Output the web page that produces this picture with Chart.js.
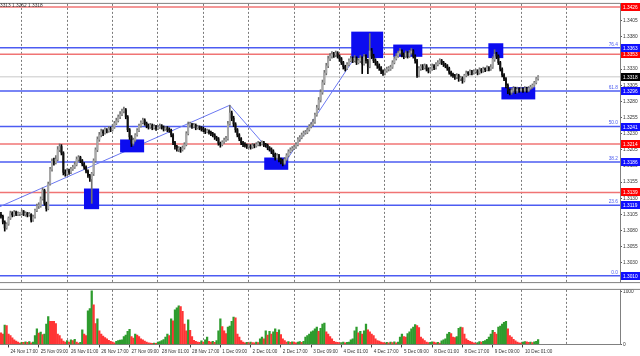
<!DOCTYPE html>
<html>
<head>
<meta charset="utf-8">
<script src="https://cdn.jsdelivr.net/npm/chart.js@4.4.1/dist/chart.umd.min.js"></script>
<style>
  html, body { margin: 0; padding: 0; background: #fff; overflow: hidden; }
  #wrap { position: relative; width: 640px; height: 356px; }
  #price { position: absolute; left: 0; top: 0; }
  #vol { position: absolute; left: 0; top: 286px; }
</style>
</head>
<body>
<div id="wrap">
  <canvas id="price" width="640" height="286"></canvas>
  <canvas id="vol" width="640" height="70"></canvas>
</div>
<script>
// prices are kept in pips above 1.3000, one entry per H1 bar (24 Nov 13:00 .. 10 Dec 09:00)
const BASE = 1.3;
const firstOpen = 105;
const closes = [
  102,93,84,90,99, 107,104,108,105,106, 106,109,105,107,104, 105,96,101,111,118,
  118,129,142,122,114, 152,175,187,185,190, 205,210,200,170,168, 172,170,175,178,182,
  190,193,188,183,178, 172,165,160,168,188, 205,221,228,233,231, 236,234,238,236,240,
  246,250,256,260,265, 267,256,236,225,215, 220,228,235,242,247, 251,246,242,240,243,
  239,241,238,240,242, 240,237,239,236,235, 228,216,210,206,207, 205,208,213,230,244,
  244,241,243,239,240, 239,237,236,233,234, 232,230,228,224,222, 215,213,217,220,222,
  245,262,254,245,236, 228,222,216,213,212, 210,211,209,212,211, 213,215,214,216,213,
  212,208,206,203,198, 193,196,190,188,184, 190,196,202,205,207, 209,213,221,224,228,
  231,232,236,241,244, 248,259,270,282,294, 309,324,335,346,350, 353,352,355,350,346,
  340,334,331,337,343, 346,343,347,340,343, 347,338,349,343,334, 358,350,343,340,335,
  332,327,324,327,330, 330,333,340,346,350, 355,358,352,350,355, 350,355,358,350,343,
  320,331,334,332,335, 330,327,330,335,332, 337,340,343,340,337, 335,331,325,322,320,
  318,320,315,316,312, 320,324,323,326,324, 326,327,324,329,327, 330,329,332,330,333,
  345,353,350,340,330, 321,315,305,297,294, 297,300,296,299,297, 299,297,300,297,300,
  302,305,309,315,318
];
const highs = [
  108,104,95,92,101, 110,109,111,110,109, 108,112,111,109,108, 108,106,104,113,121,
  123,132,146,144,124, 155,178,191,192,196, 210,214,213,202,174, 176,175,178,181,186,
  194,196,195,190,185, 180,174,167,170,191, 208,225,232,237,236, 239,238,241,240,244,
  249,254,259,264,268, 271,269,258,238,227, 223,230,238,245,250, 254,253,248,245,246,
  245,244,243,243,245, 244,242,241,241,239, 237,230,218,212,210, 209,211,216,233,248,
  248,246,246,245,243, 242,241,240,238,237, 236,234,232,230,226, 224,217,219,223,226,
  249,274,265,257,247, 238,230,224,218,216, 214,214,213,215,214, 216,218,217,219,218,
  215,214,210,208,205, 200,199,198,192,190, 193,199,205,208,210, 212,216,224,227,231,
  234,235,239,244,247, 252,262,274,286,298, 313,328,339,350,354, 357,356,358,357,352,
  348,342,336,340,346, 350,349,351,349,346, 351,349,353,352,345, 385,362,353,346,342,
  338,334,329,330,333, 334,336,343,349,354, 358,362,360,355,358, 357,359,362,360,352,
  345,334,337,337,338, 337,332,333,338,337, 340,343,346,345,342, 339,337,333,327,324,
  322,323,322,319,318, 322,327,326,329,328, 329,330,329,332,331, 333,332,335,334,337,
  349,360,356,352,342, 332,323,317,307,299, 300,303,302,302,301, 302,301,303,302,303,
  305,307,311,317,320
];
const lows = [
  99,90,79,82,88, 97,101,102,103,103, 103,104,103,102,101, 102,93,94,99,109,
  114,116,127,119,110, 112,150,172,181,183, 188,202,197,166,164, 165,167,168,173,176,
  180,187,185,180,175, 169,162,156,122,165, 186,202,218,225,227, 229,231,232,233,234,
  238,244,248,253,258, 262,253,233,221,210, 212,218,226,233,240, 245,243,239,237,238,
  236,237,235,236,238, 237,234,235,233,232, 225,213,206,203,202, 201,203,206,211,228,
  240,238,239,236,237, 236,234,233,230,231, 229,227,225,221,219, 212,209,211,215,218,
  220,243,250,241,232, 225,219,213,210,209, 207,208,206,207,208, 209,211,211,212,210,
  209,205,203,199,194, 189,190,186,183,180, 182,188,194,200,203, 205,207,211,218,222,
  226,229,230,234,239, 242,246,257,267,279, 291,306,321,332,343, 347,348,349,347,342,
  337,330,327,329,335, 341,340,341,337,338, 340,323,336,339,323, 332,346,340,336,331,
  328,323,320,321,325, 327,328,331,338,344, 348,353,349,346,348, 347,348,353,347,339,
  317,318,328,329,330, 327,324,325,328,329, 330,335,338,337,334, 332,328,322,319,317,
  314,315,311,312,308, 310,318,320,321,321, 322,324,321,322,324, 325,326,327,327,328,
  331,342,346,337,327, 318,312,301,292,290, 291,294,292,293,294, 295,294,295,294,295,
  298,300,303,307,313
];
const volumes = [
  220,200,370,360,200, 170,125,90,65,45, 25,40,40,50,40, 55,30,45,170,300,
  215,235,190,200,390, 530,440,440,440,400, 200,170,110,65,45, 75,45,90,75,100,
  45,25,40,280,200, 170,640,685,1020,755, 400,490,260,200,160, 130,110,80,60,45,
  30,60,75,85,90, 150,180,250,290,150, 120,200,180,150,110, 90,65,45,30,25,
  20,25,20,45,55, 75,95,140,200,170, 490,450,660,700,735, 720,630,390,260,470,
  270,150,80,60,45, 40,70,45,90,140, 60,45,60,40,75, 260,490,340,260,210,
  330,350,440,520,510, 200,140,75,45,30, 40,30,45,35,30, 45,35,110,140,110,
  260,180,250,200,240, 300,230,280,190,110, 75,45,55,40,50, 45,30,45,55,40,
  60,140,170,200,240, 260,300,330,250,310, 390,410,240,200,150, 110,60,45,40,30,
  35,45,30,40,45, 90,110,260,330,220, 250,200,260,390,280, 240,200,170,110,75,
  65,45,35,25,40, 30,45,35,50,30, 45,140,200,150,140, 210,240,300,330,380,
  360,320,140,110,75, 45,35,40,50,45, 30,40,25,70,90, 110,200,230,210,140,
  130,150,310,330,320, 200,110,80,60,45, 30,20,35,55,45, 60,75,100,140,200,
  270,230,200,330,350, 390,420,440,300,170, 140,100,70,45,30, 25,45,55,50,40,
  45,35,50,60,95
];

// bar index of each midnight (dashed grid) and of each time label
const dayStarts = [11, 35, 59, 83, 107, 131, 155, 179, 203, 227, 251, 275, 299];
const labelBars = [4, 20, 36, 52, 68, 84, 100, 116, 132, 148, 164, 180, 196, 212, 228, 244, 260, 276];
const timeLabels = ['24 Nov 17:00', '25 Nov 09:00', '26 Nov 01:00', '26 Nov 17:00', '27 Nov 09:00',
  '28 Nov 01:00', '28 Nov 17:00', '1 Dec 09:00', '2 Dec 01:00', '2 Dec 17:00', '3 Dec 09:00', '4 Dec 01:00',
  '4 Dec 17:00', '5 Dec 09:00', '8 Dec 01:00', '8 Dec 17:00', '9 Dec 09:00', '10 Dec 01:00'];
const priceTicks = [1.3005, 1.3030, 1.3055, 1.3080, 1.3105, 1.3130, 1.3155, 1.3180, 1.3205, 1.3230,
  1.3255, 1.3280, 1.3305, 1.3330, 1.3380, 1.3405];
const volTicks = [0, 1000];

const fiboNames = ['0.0', '23.6', '38.2', '50.0', '61.8', '76.4'];
const fiboValues = [1.3010, 1.3119, 1.3186, 1.3241, 1.3296, 1.3363];
const redLevels = [1.3139, 1.3214, 1.3353, 1.3426];
const lastPrice = 1.3318;

// blue boxes: [from bar, to bar, low pips, high pips]
const zones = [
  [43.9, 51.9, 113, 145],
  [63.0, 75.7, 201, 221],
  [139.2, 151.9, 174, 193],
  [185.2, 202.1, 347, 388],
  [207.4, 222.8, 349, 368],
  [257.7, 265.6, 347, 370],
  [264.6, 282.5, 283, 302]
];
const trendBars = [-0.5, 121, 149, 186];
const trendPips = [117, 274, 180, 343];

const X_MIN = -0.5, X_MAX = 327.3;
const FONT = "'Liberation Sans', Arial, sans-serif";
const toPrice = p => BASE + p / 10000;
const opens = closes.map((c, i) => i ? closes[i - 1] : firstOpen);
const isUp = closes.map((c, i) => c >= opens[i]);

const hLine = (v, color, width) => ({
  type: 'line', data: [{ x: X_MIN, y: v }, { x: X_MAX, y: v }],
  borderColor: color, borderWidth: width, pointRadius: 0, order: 5
});

const levelDatasets = [
  hLine(lastPrice, '#c8c8c8', 1),
  ...redLevels.map(v => hLine(v, '#f07474', 1.5)),
  ...fiboValues.map(v => hLine(v, '#4d5cf2', 1.5))
];
const WICK_INDEX = levelDatasets.length + 1;

const priceOverlay = {
  id: 'priceOverlay',
  beforeDatasetDraw(chart, args) {
    if (args.index !== WICK_INDEX) return;
    const { ctx, scales: { x, y } } = chart;
    ctx.save();
    ctx.fillStyle = '#0c0cf0';
    zones.forEach(([a, b, lo, hi]) => {
      const x0 = x.getPixelForValue(a), x1 = x.getPixelForValue(b);
      const y0 = y.getPixelForValue(toPrice(hi)), y1 = y.getPixelForValue(toPrice(lo));
      ctx.fillRect(x0, y0, x1 - x0, y1 - y0);
    });
    ctx.restore();
  },
  afterDraw(chart) {
    const { ctx, chartArea: a, scales: { y } } = chart;
    ctx.save();
    ctx.strokeStyle = '#808080';
    ctx.lineWidth = 1;
    ctx.beginPath();
    ctx.moveTo(0, a.top - 0.5); ctx.lineTo(a.right, a.top - 0.5);
    ctx.moveTo(0, a.bottom + 0.5); ctx.lineTo(640, a.bottom + 0.5);
    ctx.stroke();

    ctx.font = '4.8px ' + FONT;
    // fibo level names
    ctx.fillStyle = '#5060f0';
    ctx.textAlign = 'right';
    ctx.textBaseline = 'bottom';
    fiboValues.forEach((v, i) => ctx.fillText(fiboNames[i], a.right - 2, y.getPixelForValue(v) - 1));

    // price tags on the axis
    const tag = (v, bg) => {
      const py = Math.round(y.getPixelForValue(v));
      ctx.fillStyle = bg;
      ctx.fillRect(a.right + 1, py - 4, 640 - a.right - 1, 8);
      ctx.fillStyle = '#fff';
      ctx.textAlign = 'left';
      ctx.textBaseline = 'middle';
      ctx.fillText(v.toFixed(4), a.right + 3, py + 0.5);
    };
    redLevels.forEach(v => tag(v, '#ff0000'));
    fiboValues.forEach(v => tag(v, '#1010ff'));
    tag(lastPrice, '#000000');

    // header
    ctx.fillStyle = '#333';
    ctx.textAlign = 'left';
    ctx.textBaseline = 'middle';
    ctx.fillText('1.3313 1.3262 1.3318', -4, 6);
    ctx.restore();
  }
};

new Chart(document.getElementById('price'), {
  type: 'bar',
  data: {
    datasets: [
      ...levelDatasets,
      {
        type: 'line',
        data: trendBars.map((b, i) => ({ x: b, y: toPrice(trendPips[i]) })),
        borderColor: '#6b78f2', borderWidth: 1, pointRadius: 0, order: 4
      },
      {
        data: closes.map((c, i) => ({ x: i, y: [toPrice(lows[i]), toPrice(highs[i])] })),
        backgroundColor: isUp.map(u => u ? '#707070' : '#000000'),
        barThickness: 1, grouped: false, order: 1
      },
      {
        data: closes.map((c, i) => ({ x: i, y: [toPrice(opens[i]), toPrice(c)] })),
        backgroundColor: isUp.map(u => u ? '#a8a8a8' : '#111111'),
        barThickness: 1.3, minBarLength: 1, grouped: false, order: 0
      }
    ]
  },
  options: {
    responsive: false,
    animation: false,
    layout: { padding: { top: 2, bottom: 1, left: 0, right: 0 } },
    plugins: { legend: { display: false }, tooltip: { enabled: false } },
    scales: {
      x: {
        type: 'linear', min: X_MIN, max: X_MAX, offset: false,
        afterBuildTicks: s => { s.ticks = dayStarts.map(v => ({ value: v })); },
        ticks: { display: false, autoSkip: false },
        grid: { offset: false, color: '#7a7a7a', drawTicks: false },
        border: { display: false, dash: [2, 2] }
      },
      y: {
        position: 'right', min: 1.3000, max: 1.3431,
        afterBuildTicks: s => { s.ticks = priceTicks.map(v => ({ value: v })); },
        afterFit: s => { s.width = 20; },
        ticks: { autoSkip: false, font: { size: 4.8, family: FONT }, color: '#333', padding: 1,
          callback: v => v.toFixed(4) },
        grid: { drawOnChartArea: false, tickLength: 2, color: '#555' },
        border: { color: '#808080' }
      }
    }
  },
  plugins: [priceOverlay]
});

const volFrame = {
  id: 'volFrame',
  afterDraw(chart) {
    const { ctx, chartArea: a } = chart;
    ctx.save();
    ctx.strokeStyle = '#808080';
    ctx.lineWidth = 1;
    ctx.beginPath();
    ctx.moveTo(0, a.top - 0.5); ctx.lineTo(640, a.top - 0.5);
    ctx.stroke();
    ctx.restore();
  }
};

new Chart(document.getElementById('vol'), {
  type: 'bar',
  data: {
    datasets: [{
      data: volumes.map((v, i) => ({ x: i, y: v })),
      backgroundColor: volumes.map((v, i) => i && v > volumes[i - 1] ? '#2e9c2e' : '#ff3535'),
      barThickness: 1.6
    }]
  },
  options: {
    responsive: false,
    animation: false,
    layout: { padding: { top: 2, bottom: 1, left: 0, right: 0 } },
    plugins: { legend: { display: false }, tooltip: { enabled: false } },
    scales: {
      x: {
        type: 'linear', min: X_MIN, max: X_MAX, offset: false,
        afterBuildTicks: s => { s.ticks = dayStarts.map(v => ({ value: v })); },
        ticks: { display: false, autoSkip: false },
        grid: { offset: false, color: '#7a7a7a', drawTicks: false },
        border: { display: false, dash: [2, 2] }
      },
      xl: {
        type: 'linear', position: 'bottom', min: X_MIN, max: X_MAX, offset: false,
        afterBuildTicks: s => { s.ticks = labelBars.map(v => ({ value: v })); },
        ticks: { autoSkip: false, maxRotation: 0, align: 'start', labelOffset: 2, padding: 1,
          font: { size: 4.6, family: FONT }, color: '#333',
          callback: (v, i) => timeLabels[i] },
        grid: { offset: false, drawOnChartArea: false, tickLength: 3, color: '#444' },
        border: { color: '#808080' }
      },
      y: {
        position: 'right', min: 0, max: 1040,
        afterBuildTicks: s => { s.ticks = volTicks.map(v => ({ value: v })); },
        afterFit: s => { s.width = 20; },
        ticks: { autoSkip: false, font: { size: 4.8, family: FONT }, color: '#333', padding: 1,
          callback: v => String(v) },
        grid: { drawOnChartArea: false, tickLength: 2, color: '#555' },
        border: { color: '#808080' }
      }
    }
  },
  plugins: [volFrame]
});
</script>
</body>
</html>
